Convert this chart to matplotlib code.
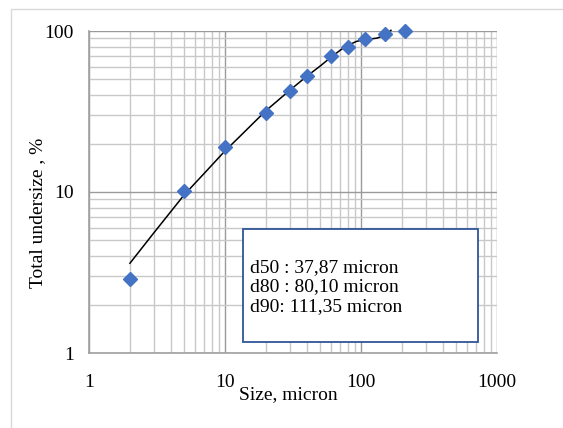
import matplotlib.pyplot as plt
from matplotlib.patches import Rectangle
from matplotlib.ticker import LogLocator, FixedLocator, NullFormatter

plt.rcParams['font.family'] = ['Liberation Serif', 'DejaVu Serif']

# Datos medidos (tamaño en micras, % pasante acumulado)
size = [2, 5, 10, 20, 30, 40, 60, 80, 107, 150, 212]
undersize = [2.9, 10.2, 18.9, 31.0, 42.5, 52.4, 69.6, 79.6, 89.2, 96.2, 100]

# Línea de tendencia
trend_x = [2, 2.96, 5, 7.3, 10, 12.9, 20, 30, 40, 50, 60, 70.2, 80, 93, 107, 131, 150, 166]
trend_y = [3.61, 5.50, 9.58, 13.5, 18.0, 22.2, 32.0, 42.9, 52.4, 60.5, 68.6, 75.9, 81.5,
           86.3, 88.3, 90.3, 94.0, 101.0]

info_lines = ['d50 : 37,87 micron', 'd80 : 80,10 micron', 'd90: 111,35 micron']

fig = plt.figure(figsize=(5.63, 4.28), dpi=100)
ax = fig.add_axes([89 / 563, 1 - 353 / 428, 408 / 563, 322 / 428])

# marco del área del gráfico
fig.patches.append(Rectangle((11 / 563, -0.1), 1.2, 1 - 9 / 428 + 0.1,
                             transform=fig.transFigure, fill=False,
                             edgecolor='#d9d9d9', lw=1))

ax.set_xscale('log')
ax.set_yscale('log')
ax.set_xlim(1, 1000)
ax.set_ylim(1, 100)

ax.xaxis.set_minor_locator(LogLocator(base=10, subs=range(2, 10)))
ax.yaxis.set_minor_locator(LogLocator(base=10, subs=range(2, 10)))
ax.xaxis.set_minor_formatter(NullFormatter())
ax.yaxis.set_minor_formatter(NullFormatter())
ax.xaxis.set_major_locator(FixedLocator([1, 10, 100, 1000]))
ax.yaxis.set_major_locator(FixedLocator([1, 10, 100]))
ax.set_xticklabels(['1', '10', '100', '1000'])
ax.set_yticklabels(['1', '10', '100'])

ax.grid(True, which='major', color='#9a9a9a', lw=1)
ax.grid(True, which='minor', color='#c8c8c8', lw=1)
ax.set_axisbelow(True)
for side in ['top', 'right']:
    ax.spines[side].set_visible(False)
for side in ['left', 'bottom']:
    ax.spines[side].set_color('#a0a0a0')
    ax.spines[side].set_linewidth(1.2)
ax.tick_params(which='both', length=0, labelsize=14, colors='black')
ax.tick_params(axis='x', pad=15)
ax.tick_params(axis='y', pad=11)

ax.plot(trend_x, trend_y, color='black', lw=1.1, zorder=3, clip_on=False)
ax.plot(size, undersize, linestyle='none', marker='D', markersize=7,
        color='#4472C4', zorder=4, clip_on=False)

# cuadro de texto
ax.add_patch(Rectangle((0.377, 0.033), 0.576, 0.353, transform=ax.transAxes,
                       facecolor='white', edgecolor='#2F5597', lw=1.3, zorder=5))
ax.text(0.395, 0.205, '\n'.join(info_lines), transform=ax.transAxes,
        ha='left', va='center', fontsize=14, linespacing=1.2, zorder=6)

fig.text(288 / 563, 1 - 395 / 428, 'Size, micron', ha='center', va='center', fontsize=14)
fig.text(38 / 563, 1 - 213 / 428, 'Total undersize , %', ha='center', va='center',
         rotation=90, fontsize=14)

fig.savefig('out.png', dpi=100)
